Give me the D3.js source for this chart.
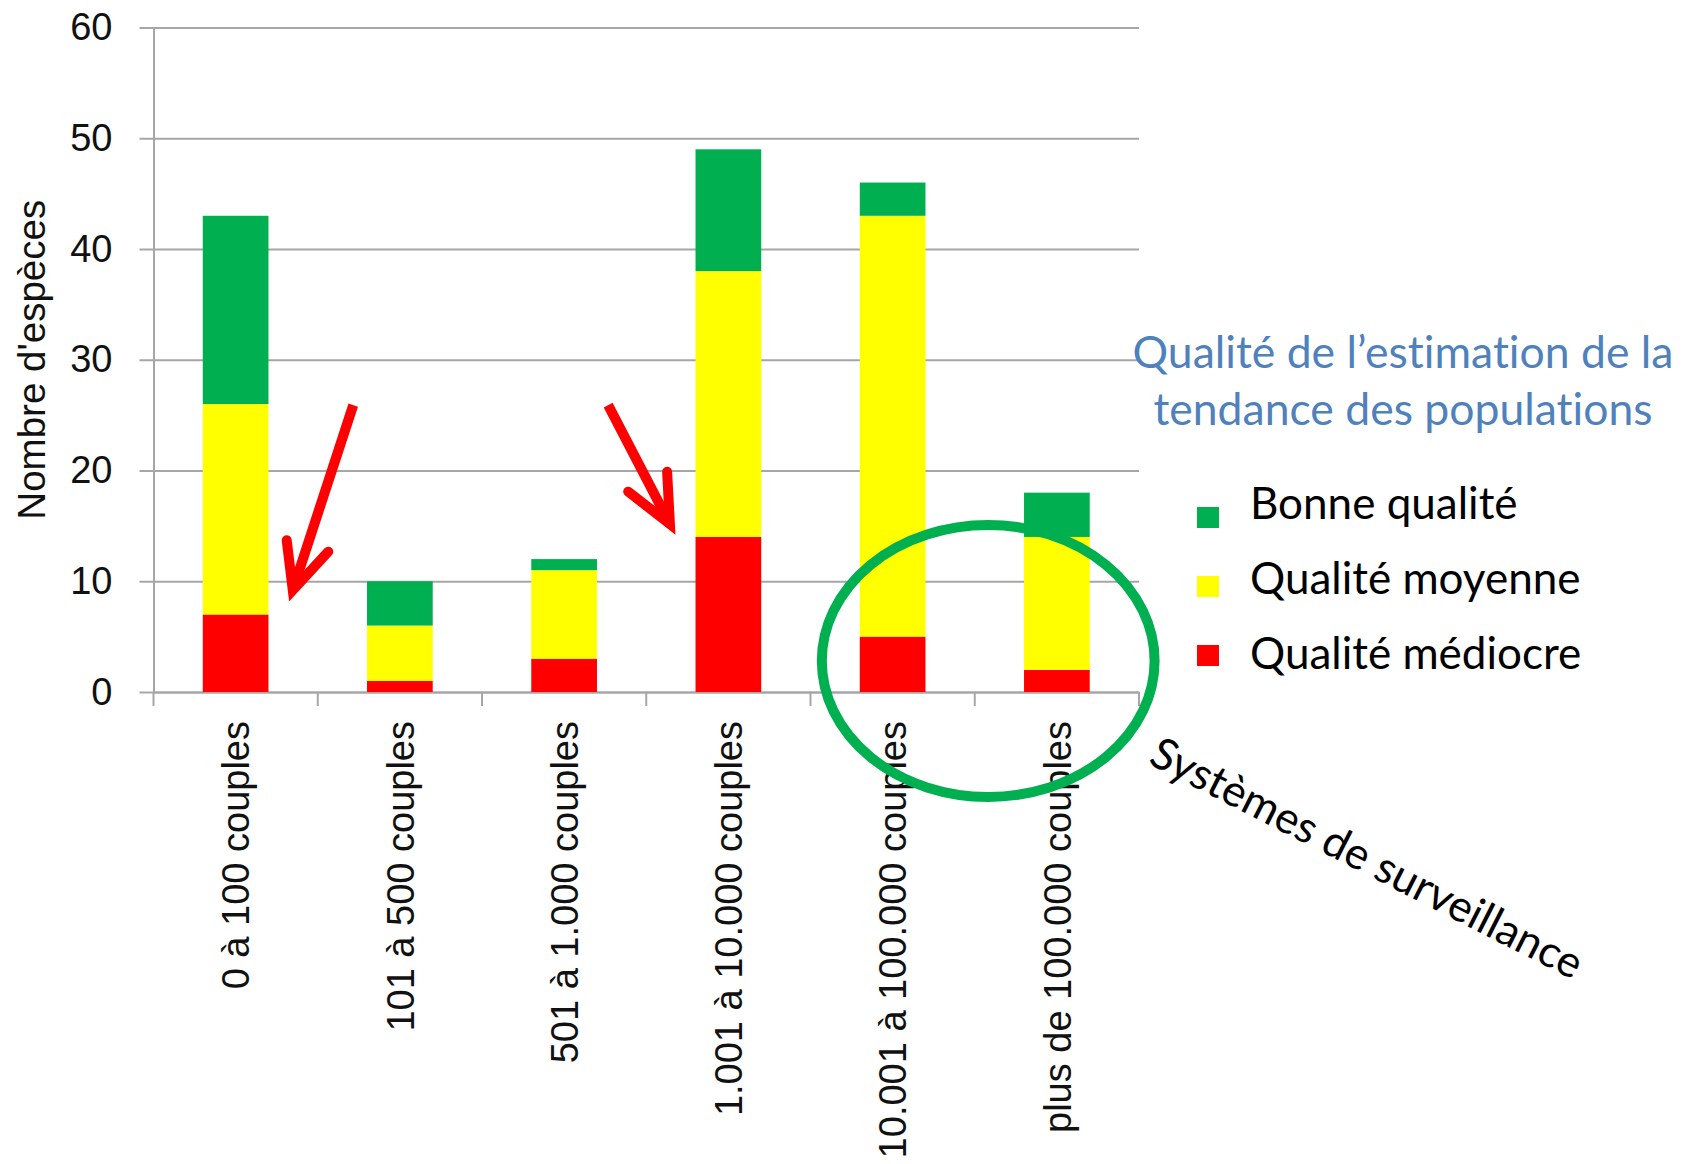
<!DOCTYPE html>
<html>
<head>
<meta charset="utf-8">
<script src="https://cdn.jsdelivr.net/npm/d3@7"></script>
<style>
  body { margin: 0; background: #fff; }
  .axis text { font-family: "Liberation Sans", Arial, sans-serif; fill: #111; }
  .axis path, .axis line { stroke: #a6a6a6; stroke-width: 2; }
  .grid line { stroke: #a6a6a6; stroke-width: 2; }
  .grid path { display: none; }
  text { font-variant-ligatures: none; }
</style>
</head>
<body>
<div id="chart"></div>
<script>
// data
const categories = ["0 à 100 couples", "101 à 500 couples", "501 à 1.000 couples",
  "1.001 à 10.000 couples", "10.001 à 100.000 couples", "plus de 100.000 couples"];
const mediocre = [7, 1, 3, 14, 5, 2];
const moyenne = [19, 5, 8, 24, 38, 12];
const bonne = [17, 4, 1, 11, 3, 4];
const seriesNames = ["Bonne qualité", "Qualité moyenne", "Qualité médiocre"];
const yTicks = [0, 10, 20, 30, 40, 50, 60];
const yLabelText = "Nombre d'espèces";
const legendTitle = ["Qualité de l’estimation de la", "tendance des populations"];
const noteText = "Systèmes de surveillance";

let margin = { top: 27.5, left: 153.5, right: 543, bottom: 472 },
  width = 1682 - margin.left - margin.right,
  height = 1164 - margin.top - margin.bottom,
  colors = { bon: "#00b050", moy: "#ffff00", med: "#ff0000" };

let svg = d3.select("#chart")
  .append("svg")
  .attr("width", 1682)
  .attr("height", 1164);

let g = svg.append("g")
  .attr("transform", "translate(" + margin.left + "," + margin.top + ")");

let xScale = d3.scaleBand()
  .domain(categories)
  .range([0, width])
  .paddingInner(0.6)
  .paddingOuter(0.3);

let yScale = d3.scaleLinear()
  .domain([0, 60])
  .range([height, 0]);

// gridlines
g.append("g")
  .attr("class", "grid")
  .call(d3.axisLeft(yScale).tickValues(yTicks).tickSize(-width).tickFormat(""));

// y axis
g.append("g")
  .attr("class", "axis")
  .call(d3.axisLeft(yScale).tickValues(yTicks).tickSize(14).tickSizeOuter(0).tickPadding(27))
  .selectAll("text")
  .style("font-size", "38px");

// x axis: labels at band centres, ticks at band boundaries
let xAxis = g.append("g")
  .attr("class", "axis")
  .attr("transform", "translate(0," + height + ")")
  .call(d3.axisBottom(xScale).tickSize(0).tickSizeOuter(0));

xAxis.selectAll("text")
  .attr("transform", "rotate(-90)")
  .attr("x", -29)
  .attr("y", 0)
  .attr("dy", "0.36em")
  .attr("text-anchor", "end")
  .style("font-size", "38px");

xAxis.selectAll(".boundary")
  .data(d3.range(categories.length + 1))
  .enter().append("line")
  .attr("class", "boundary")
  .attr("x1", i => i * xScale.step())
  .attr("x2", i => i * xScale.step())
  .attr("y1", 0)
  .attr("y2", 14);

// y label
svg.append("text")
  .attr("transform", "translate(45," + (margin.top + yScale(30)) + ") rotate(-90)")
  .attr("text-anchor", "middle")
  .style("font-family", "'Liberation Sans', Arial, sans-serif")
  .style("font-size", "38.5px")
  .style("fill", "#111")
  .text(yLabelText);

// stacked bars
let rows = categories.map((c, i) => ({ cat: c, med: mediocre[i], moy: moyenne[i], bon: bonne[i] }));
let stacked = d3.stack().keys(["med", "moy", "bon"])(rows);

g.selectAll(".layer")
  .data(stacked)
  .enter().append("g")
  .attr("class", "layer")
  .attr("fill", d => colors[d.key])
  .selectAll("rect")
  .data(d => d)
  .enter().append("rect")
  .attr("x", d => xScale(d.data.cat))
  .attr("y", d => yScale(d[1]))
  .attr("width", xScale.bandwidth())
  .attr("height", d => yScale(d[0]) - yScale(d[1]));

// annotations, placed in chart units (x in band steps, y in values)
const X = u => u * xScale.step();
const Y = v => yScale(v);

let arrows = [
  { tail: [1.216, 25.9], tip: [0.848, 9.2], wings: [[0.811, 13.7], [1.064, 12.67]] },
  { tail: [2.768, 25.9], tip: [3.144, 15.17], wings: [[2.890, 18.09], [3.127, 19.89]] }
];

arrows.forEach(a => {
  g.append("line")
    .attr("x1", X(a.tail[0])).attr("y1", Y(a.tail[1]))
    .attr("x2", X(a.tip[0])).attr("y2", Y(a.tip[1]))
    .attr("stroke", "#ff0000")
    .attr("stroke-width", 10);
  g.append("path")
    .attr("d", d3.line()([[X(a.wings[0][0]), Y(a.wings[0][1])], [X(a.tip[0]), Y(a.tip[1])], [X(a.wings[1][0]), Y(a.wings[1][1])]]))
    .attr("fill", "none")
    .attr("stroke", "#ff0000")
    .attr("stroke-width", 10)
    .attr("stroke-linecap", "round")
    .attr("stroke-linejoin", "miter");
});

g.append("ellipse")
  .attr("cx", X(5.082))
  .attr("cy", Y(2.8))
  .attr("rx", X(1.013))
  .attr("ry", Y(0) - Y(12.28))
  .attr("fill", "none")
  .attr("stroke", "#00b050")
  .attr("stroke-width", 10);

// legend
let legend = svg.append("g")
  .style("font-family", "Lato, 'Open Sans', sans-serif");

legend.selectAll(".ltitle")
  .data(legendTitle)
  .enter().append("text")
  .attr("class", "ltitle")
  .attr("x", 1403)
  .attr("y", (d, i) => 368 + i * 57)
  .attr("text-anchor", "middle")
  .style("font-size", "44.5px")
  .style("fill", "#4f81bd")
  .text(d => d);

let legendColors = [colors.bon, colors.moy, colors.med];

legend.selectAll(".lkey")
  .data(seriesNames)
  .enter().append("rect")
  .attr("class", "lkey")
  .attr("x", 1197)
  .attr("y", (d, i) => 507 + i * 69)
  .attr("width", 22)
  .attr("height", 21)
  .attr("fill", (d, i) => legendColors[i]);

legend.selectAll(".llabel")
  .data(seriesNames)
  .enter().append("text")
  .attr("class", "llabel")
  .attr("x", 1250)
  .attr("y", (d, i) => 519 + i * 75)
  .style("font-size", "44px")
  .style("fill", "#000")
  .text(d => d);

svg.append("text")
  .attr("transform", "translate(1147,763) rotate(27)")
  .style("font-family", "Lato, 'Open Sans', sans-serif")
  .style("font-size", "44px")
  .style("fill", "#000")
  .text(noteText);
</script>
</body>
</html>
